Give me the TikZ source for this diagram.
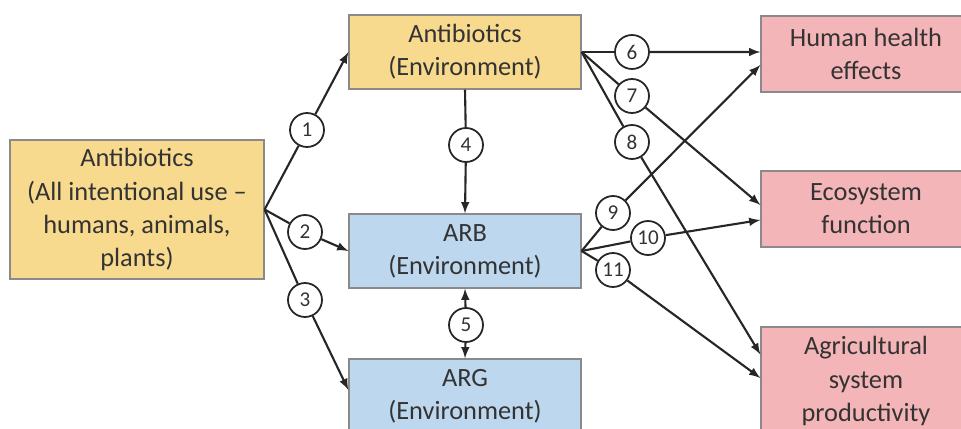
\documentclass[tikz,border=0pt]{standalone}
\usepackage{fontspec}
\setmainfont{Carlito}
\usepackage{tikz}
\usetikzlibrary{arrows}
\usepackage{xcolor}
\definecolor{drugfill}{HTML}{F8DA8E}
\definecolor{genefill}{HTML}{BDD7EE}
\definecolor{effectfill}{HTML}{F4B5B8}
\definecolor{boxline}{HTML}{8A8A8A}
\definecolor{txt}{HTML}{333333}

\begin{document}
\begin{tikzpicture}[>=latex,line width=1.2pt,draw=black!85]
  \tikzstyle{box}=[draw=boxline,line width=0.7pt,align=center,text=txt,
    font=\fontsize{15}{18.8}\selectfont,inner sep=0pt]
  \tikzstyle{drug}=[box,fill=drugfill,minimum width=4.64cm,minimum height=1.48cm]
  \tikzstyle{gene}=[box,fill=genefill,minimum width=4.64cm,minimum height=1.48cm]
  \tikzstyle{effect}=[box,fill=effectfill,minimum width=4.2cm,minimum height=1.52cm]
  \tikzstyle{num}=[circle,draw,fill=white,line width=1pt,minimum size=0.68cm,
    inner sep=0pt,text=txt,font=\fontsize{12}{13}\selectfont]

  \useasboundingbox (0,0) rectangle (19.22,-8.58);
  \clip (0,0) rectangle (19.22,-8.58);

  % boxes
  \node[drug,minimum width=5.08cm,minimum height=2.78cm] (use) at (2.74,-4.19)
    {Antibiotics\\(All intentional use --\\humans, animals,\\plants)};
  \node[drug]   (abe) at (9.30,-1.04) {Antibiotics\\(Environment)};
  \node[gene]   (arb) at (9.30,-5.02) {ARB\\(Environment)};
  \node[gene]   (arg) at (9.30,-7.92) {ARG\\(Environment)};
  \node[effect] (hum) at (17.32,-1.08) {Human health\\effects};
  \node[effect] (eco) at (17.32,-4.18) {Ecosystem\\function};
  \node[effect,minimum height=2.16cm] (agr) at (17.32,-7.62)
    {Agricultural\\system\\productivity};

  % numbered pathways
  \node[num] (n1)  at (6.14,-2.60)  {1};
  \node[num] (n2)  at (6.10,-4.64)  {2};
  \node[num] (n3)  at (6.10,-6.00)  {3};
  \node[num] (n4)  at (9.32,-2.90)  {4};
  \node[num] (n5)  at (9.32,-6.50)  {5};
  \node[num] (n6)  at (12.64,-1.04) {6};
  \node[num] (n7)  at (12.64,-1.92) {7};
  \node[num] (n8)  at (12.64,-2.84) {8};
  \node[num] (n9)  at (12.26,-4.26) {9};
  \node[num] (n10) at (12.96,-4.76) {10};
  \node[num] (n11) at (12.26,-5.40) {11};

  \path
  (use.east) edge (n1)
  (use.east) edge (n2)
  (use.east) edge (n3)
  (abe.south) edge (n4)
  (abe.east) edge (n6)
  (abe.east) edge (n7)
  (abe.east) edge (n8)
  (arb.east) edge (n9)
  (arb.east) edge (n10)
  (arb.east) edge (n11)
  ;

  \path[->]
  (n1)  edge (abe.west)
  (n2)  edge (arb.west)
  (n3)  edge ([yshift=0.12cm]arg.west)
  (n4)  edge (arb.north)
  (n5)  edge (arb.south)
  (n5)  edge (arg.north)
  (n6)  edge ([yshift=0.04cm]hum.west)
  (n7)  edge (eco.north west |- 0,-4.10)
  (n8)  edge ([yshift=0.53cm]agr.west)
  (n9)  edge ([yshift=-0.22cm]hum.west)
  (n10) edge ([yshift=-0.22cm]eco.west)
  (n11) edge (agr.west |- 0,-7.56)
  ;
\end{tikzpicture}
\end{document}
